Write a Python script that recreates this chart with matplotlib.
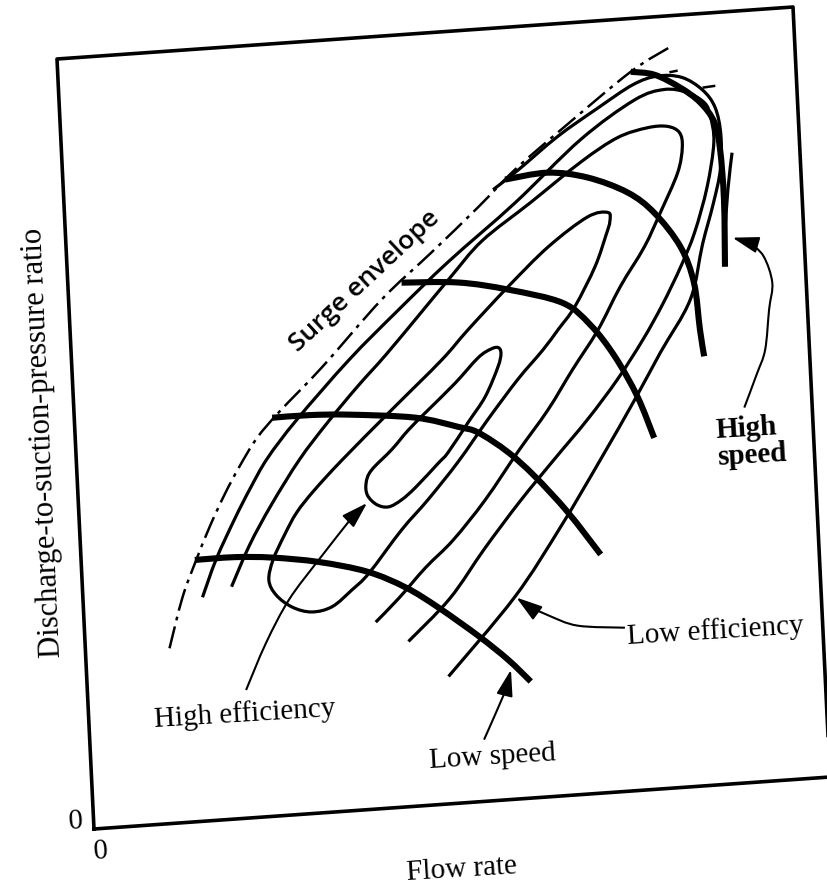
import numpy as np
import matplotlib
matplotlib.use("Agg")
import matplotlib.pyplot as plt
from matplotlib.transforms import Affine2D
from matplotlib.path import Path
from matplotlib.patches import PathPatch

# chart units: flow rate (x) and discharge/suction pressure ratio (y), 0..100 across the frame
frame_x = [0, 100, 100, 0, 0]
frame_y = [0, 0, 100, 100, 0]

surge_x = [11.4, 13.5, 15.6, 17.6, 19.8, 22.0, 24.6, 27.8, 33.9, 42.4, 49.4, 56.1, 61.3, 68.3, 77.6, 83.0]
surge_y = [22.7, 29.2, 33.9, 38.0, 42.0, 45.5, 49.1, 52.3, 57.7, 65.9, 71.5, 77.0, 81.5, 86.6, 93.1, 95.9]

# constant-speed lines, low to high
speed1_x = [15.4, 20.8, 25.9, 32.2, 38.7, 43.8, 48.1, 53.4, 57.2, 60.1]
speed1_y = [33.9, 33.9, 33.5, 32.5, 30.8, 28.4, 25.5, 21.4, 18.1, 15.1]
speed2_x = [26.8, 31.8, 37.2, 46.2, 52.0, 54.6, 58.5, 62.0, 66.2, 70.4]
speed2_y = [51.6, 51.6, 51.3, 50.3, 48.7, 47.8, 45.0, 41.6, 36.7, 30.9]
speed3_x = [45.2, 52.9, 59.7, 66.9, 70.5, 73.6, 76.4, 78.4]
speed3_y = [67.9, 67.4, 66.0, 63.8, 60.7, 56.4, 51.0, 45.5]
speed4_x = [59.9, 65.7, 71.1, 76.4, 79.9, 83.2, 84.8, 85.3, 85.7]
speed4_y = [80.3, 80.8, 79.8, 77.5, 74.6, 70.0, 65.2, 59.1, 55.6]
speed5_x = [77.6, 80.8, 84.2, 86.8, 88.6, 89.2, 89.4, 89.1]
speed5_y = [93.1, 92.5, 90.6, 88.5, 85.8, 82.2, 75.7, 67.0]

# efficiency contours, innermost (high) to outermost (low)
eff1_x = [39.9, 42.8, 45.2, 48.0, 51.8, 55.1, 56.9, 57.9, 58.2, 57.7, 55.8, 53.3, 50.4, 49.0, 45.8,
          43.8, 42.0, 40.4, 39.2, 39.1, 39.9]
eff1_y = [43.9, 46.4, 48.8, 51.2, 54.4, 57.5, 58.5, 58.6, 57.8, 56.1, 52.4, 49.2, 45.5, 44.2, 41.3,
          39.8, 39.0, 39.4, 40.7, 42.3, 43.9]
eff2_x = [73.6, 70.8, 65.3, 59.6, 53.9, 50.1, 43.0, 36.0, 32.0, 29.5, 27.7, 26.0, 25.3, 26.2, 28.3,
          30.9, 33.7, 36.5, 38.9, 43.6, 47.4, 51.7, 56.0, 60.3, 63.9, 66.1, 68.5, 71.5, 73.2, 73.8, 73.6]
eff2_y = [75.1, 74.7, 71.2, 66.4, 61.2, 57.5, 51.5, 45.5, 41.8, 39.1, 36.3, 33.2, 30.6, 28.6, 26.9,
          26.1, 26.6, 28.6, 30.6, 35.9, 39.6, 44.2, 49.4, 54.3, 57.9, 60.4, 63.2, 68.2, 72.2, 73.9, 75.1]
eff3_x = [20.2, 22.9, 26.1, 30.2, 34.2, 38.6, 42.6, 47.6, 51.9, 56.4, 63.2, 70.3, 75.4, 79.5, 82.2,
          83.8, 84.1, 83.3, 80.7, 78.3, 74.8, 71.5, 67.8, 64.2, 59.9, 55.1, 50.5, 46.6, 42.8, 39.5]
eff3_y = [30.1, 35.3, 40.3, 45.9, 50.4, 54.9, 58.7, 63.8, 68.2, 72.6, 77.1, 81.9, 84.7, 85.7, 85.7,
          84.8, 82.9, 79.6, 74.6, 70.3, 65.4, 60.0, 55.1, 50.1, 45.0, 39.0, 34.1, 30.8, 27.1, 24.2]
eff4_x = [16.2, 18.3, 21.1, 23.4, 25.9, 30.1, 37.6, 44.6, 51.7, 61.1, 70.4, 77.9, 82.0, 85.1, 87.4,
          88.1, 88.4, 87.2, 85.2, 83.1, 80.4, 77.5, 73.8, 69.5, 64.6, 59.8, 54.7, 49.7, 43.8]
eff4_y = [29.0, 33.8, 38.9, 42.7, 46.4, 51.1, 58.4, 64.4, 70.2, 77.2, 84.8, 89.4, 90.5, 89.9, 88.4,
          86.6, 83.2, 77.5, 71.7, 67.4, 62.7, 58.3, 53.4, 48.5, 43.5, 38.5, 32.7, 26.6, 21.4]
eff5_x = [58.2, 61.7, 67.3, 72.9, 77.8, 81.2, 84.5, 87.2, 88.8, 89.4, 89.1, 87.9, 86.2, 84.2, 79.8,
          76.0, 71.0, 65.2, 58.5, 49.0]
eff5_y = [79.1, 81.4, 85.4, 88.7, 91.4, 92.3, 91.9, 90.1, 87.7, 84.1, 79.6, 75.2, 70.1, 63.1, 56.5,
          50.6, 43.2, 34.9, 26.2, 16.5]

# short thin line crossing the top speed line, and the two dashes over the top
stub_x = [90.8, 90.0, 89.3]
stub_y = [81.7, 77.0, 71.4]
top_dash_x = [[83.0, 83.8], [87.4, 88.8]]
top_dash_y = [[92.7, 92.8], [90.4, 90.5]]

# annotation leaders (text end first, arrow tip last)
hi_eff_x = [21.5, 24.5, 27.9, 32.2, 36.9, 39.1]
hi_eff_y = [16.6, 22.5, 27.9, 32.8, 37.9, 39.7]
lo_speed_x = [53.4, 55.2, 56.7, 57.5]
lo_speed_y = [8.0, 11.4, 14.3, 16.8]
lo_eff_x = [73.2, 66.8, 62.9, 60.2, 58.7]
lo_eff_y = [21.2, 21.9, 23.5, 24.9, 26.1]
hi_speed_x = [90.8, 92.7, 94.0, 94.8, 95.4, 94.4, 92.6, 90.3]
hi_speed_y = [48.6, 52.8, 55.9, 61.1, 64.5, 68.0, 69.9, 70.7]

fig = plt.figure(figsize=(8.27, 8.90), dpi=100)
ax = fig.add_axes([0, 0, 1, 1])
ax.set_xlim(0, 827)
ax.set_ylim(890, 0)
ax.axis('off')

# the scanned page is slightly tilted: map chart units onto the tilted frame
page = Affine2D(np.array([[7.36, -0.37, 94.0],
                          [-0.52, -7.70, 829.0],
                          [0.0, 0.0, 1.0]]))
T = page + ax.transData
tilt = 3.5


def smooth(x, y):
    # smooth bezier path through the read points (catmull-rom tangents)
    pts = np.column_stack([x, y]).astype(float)
    n = len(pts)
    closed = np.allclose(pts[0], pts[-1])
    verts, codes = [pts[0]], [Path.MOVETO]
    for i in range(n - 1):
        p0 = pts[i - 1] if i > 0 else (pts[-2] if closed else pts[0])
        p1, p2 = pts[i], pts[i + 1]
        p3 = pts[i + 2] if i + 2 < n else (pts[1] if closed else pts[-1])
        verts += [p1 + (p2 - p0) / 6, p2 - (p3 - p1) / 6, p2]
        codes += [Path.CURVE4] * 3
    return Path(verts, codes)


def curve(x, y, lw, **kw):
    ax.add_patch(PathPatch(smooth(x, y), fill=False, edgecolor='black', lw=lw,
                           transform=T, clip_on=False, capstyle='butt', joinstyle='round', **kw))


ax.plot(frame_x, frame_y, color='black', lw=2.6, transform=T, clip_on=False)
curve(surge_x, surge_y, 1.8, linestyle=(0, (9, 2.5, 1.5, 2.5)))

for ex, ey in [(eff1_x, eff1_y), (eff2_x, eff2_y), (eff3_x, eff3_y), (eff4_x, eff4_y), (eff5_x, eff5_y)]:
    curve(ex, ey, 2.3)
curve(stub_x, stub_y, 2.3)
for dx, dy in zip(top_dash_x, top_dash_y):
    ax.plot(dx, dy, color='black', lw=1.8, transform=T, clip_on=False)

for sx, sy in [(speed1_x, speed1_y), (speed2_x, speed2_y), (speed3_x, speed3_y),
               (speed4_x, speed4_y), (speed5_x, speed5_y)]:
    curve(sx, sy, 4.4)

for lx, ly in [(hi_eff_x, hi_eff_y), (lo_speed_x, lo_speed_y), (lo_eff_x, lo_eff_y), (hi_speed_x, hi_speed_y)]:
    curve(lx[:-1], ly[:-1], 1.5)
    ax.annotate('', xy=(lx[-1], ly[-1]), xytext=(lx[-2], ly[-2]), xycoords=T, textcoords=T,
                arrowprops=dict(arrowstyle='-|>,head_length=0.8,head_width=0.25', color='black',
                                lw=1.5, shrinkA=0, shrinkB=0, mutation_scale=20))

serif = 'Liberation Serif'
ax.text(40.3, 68.4, 'Surge envelope', transform=T, rotation=43, rotation_mode='anchor',
        ha='center', va='center', fontsize=19, family='Open Sans', fontweight='semibold')
ax.text(86.8, 44.1, 'High\nspeed', transform=T, rotation=tilt, rotation_mode='anchor',
        ha='left', va='center', fontsize=21, family=serif, fontweight='bold', linespacing=1.0)
ax.text(85.5, 19.9, 'Low efficiency', transform=T, rotation=tilt, rotation_mode='anchor',
        ha='center', va='center', fontsize=21, family=serif)
ax.text(21.2, 13.5, 'High efficiency', transform=T, rotation=tilt, rotation_mode='anchor',
        ha='center', va='center', fontsize=21, family=serif)
ax.text(54.4, 5.7, 'Low speed', transform=T, rotation=tilt, rotation_mode='anchor',
        ha='center', va='center', fontsize=21, family=serif)
ax.text(49.6, -8.6, 'Flow rate', transform=T, rotation=tilt, rotation_mode='anchor',
        ha='center', va='center', fontsize=21, family=serif)
ax.text(-2.4, 1.1, '0', transform=T, rotation=tilt, ha='center', va='center', fontsize=21, family=serif)
ax.text(0.8, -3.0, '0', transform=T, rotation=tilt, ha='center', va='center', fontsize=21, family=serif)
ax.text(-4.4, 50.5, 'Discharge-to-suction-pressure ratio', transform=T, rotation=90 + tilt - 1,
        rotation_mode='anchor', ha='center', va='center', fontsize=22, family=serif)

fig.savefig('out.png', dpi=100)
